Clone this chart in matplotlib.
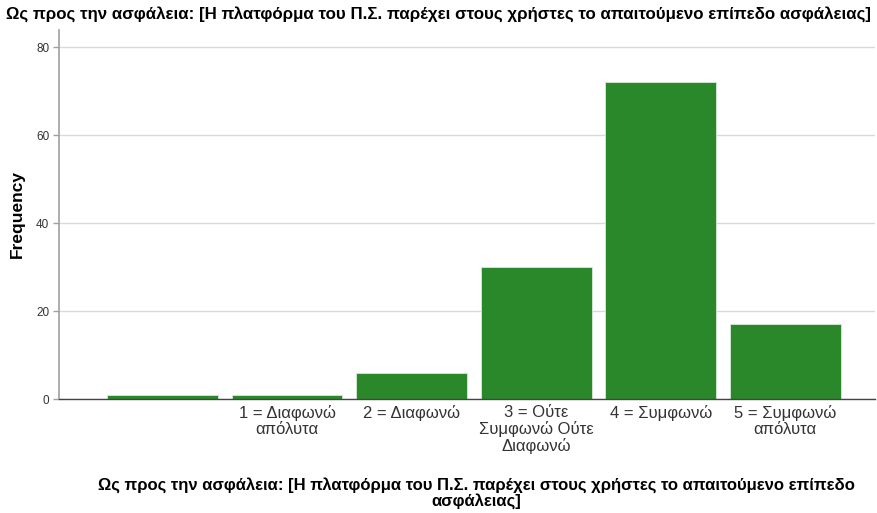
import matplotlib
matplotlib.use("Agg")
import matplotlib.pyplot as plt

plt.rcParams['font.family'] = ['Liberation Sans', 'DejaVu Sans']

categories = ["", "1 = Διαφωνώ\nαπόλυτα", "2 = Διαφωνώ", "3 = Ούτε\nΣυμφωνώ Ούτε\nΔιαφωνώ",
              "4 = Συμφωνώ", "5 = Συμφωνώ\nαπόλυτα"]
frequencies = [1, 1, 6, 30, 72, 17]
y_ticks = [0, 20, 40, 60, 80]

title = "Ως προς την ασφάλεια: [Η πλατφόρμα του Π.Σ. παρέχει στους χρήστες το απαιτούμενο επίπεδο ασφάλειας]"
x_label = "Ως προς την ασφάλεια: [Η πλατφόρμα του Π.Σ. παρέχει στους χρήστες το απαιτούμενο επίπεδο\nασφάλειας]"

fig = plt.figure(figsize=(8.77, 5.13), dpi=100)
ax = fig.add_axes([59 / 877, 1 - 399 / 513, (875 - 59) / 877, (399 - 30) / 513])

positions = list(range(len(categories)))
ax.bar(positions, frequencies, width=0.89, color="#2a882a", edgecolor="#d8ead8",
       linewidth=0.6, zorder=3)

ax.set_xlim(-0.83, 5.72)
ax.set_ylim(0, 83.9)
ax.set_yticks(y_ticks)
ax.set_yticklabels([str(v) for v in y_ticks], fontsize=8.5, color="#333333")
ax.set_xticks(positions)
ax.set_xticklabels(categories, fontsize=12, color="#333333", linespacing=1.08)
ax.tick_params(axis="x", length=0, pad=4)
ax.tick_params(axis="y", length=4, color="#a0a0a0", width=1, pad=3)

ax.grid(axis="y", color="#d9d9d9", linewidth=1, zorder=0)
for side in ("top", "right"):
    ax.spines[side].set_visible(False)
ax.spines["left"].set_color("#a0a0a0")
ax.spines["left"].set_linewidth(1.2)
ax.spines["bottom"].set_color("#444444")
ax.spines["bottom"].set_linewidth(1)
ax.spines["bottom"].set_zorder(4)

fig.text(0.5, 1 - 14 / 513, title, ha="center", va="center", fontsize=12.2, fontweight="bold")
ax.set_ylabel("Frequency", fontsize=12.5, fontweight="bold", labelpad=8)
fig.text(476 / 877, 1 - 493 / 513, x_label, ha="center", va="center", fontsize=12,
         fontweight="bold", linespacing=1.05)

fig.savefig("out.png", dpi=100)
